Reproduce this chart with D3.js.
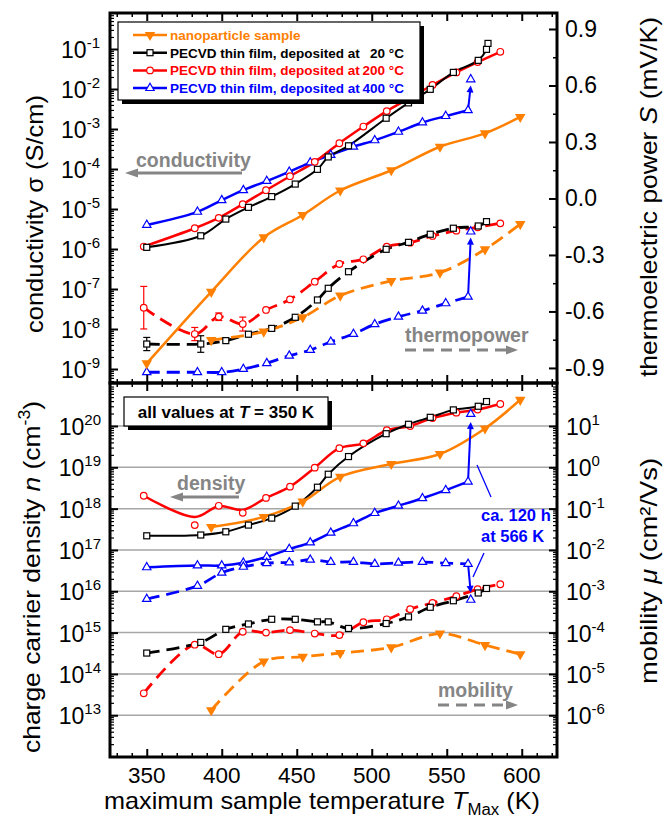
<!DOCTYPE html>
<html>
<head>
<meta charset="utf-8">
<script src="https://cdn.jsdelivr.net/npm/d3@7"></script>
<style>
body { margin: 0; background: #fff; }
svg { display: block; font-family: "Liberation Sans", Arial, sans-serif; }
</style>
</head>
<body>
<svg width="663" height="830"></svg>
<script>
// values
// nanoparticle sample
var tempNano = [350, 393, 428, 454, 479, 513, 545.5, 575.5, 599];
var condNano = [1.38e-9, 8.5e-8, 1.95e-6, 7.1e-6, 2.9e-5, 9.3e-5, 3.6e-4, 7.8e-4, 2.0e-3];
var seebNano = [null, -0.752, -0.707, -0.631, -0.516, -0.438, -0.394, -0.27, -0.136];
var densNano = [null, 3.6e17, 6.3e17, 1.48e18, 5.9e18, 1.2e19, 2.1e19, 8.7e19, 4.3e20];
var mobNano  = [null, 1.32e-6, 2.0e-5, 2.6e-5, 3.2e-5, 4.4e-5, 9.5e-5, 5.0e-5, 3.0e-5];

// PECVD film deposited at 20 C
var temp20 = [350, 386, 402.7, 417.8, 433.3, 449, 463.8, 471, 484.5, 509.6, 524.5, 539, 554.4, 571, 576.5, 577.5];
var cond20 = [1.10e-6, 2.14e-6, 5.6e-6, 1.10e-5, 2.04e-5, 4.2e-5, 9.8e-5, 2.0e-4, 3.8e-4, 1.86e-3, 4.5e-3, 9.8e-3, 2.6e-2, 5.2e-2, 9.8e-2, 0.138];
var seeb20 = [-0.773, -0.773, -0.755, -0.721, -0.69, -0.631, -0.539, -0.477, -0.389, -0.27, -0.233, -0.19, -0.158, -0.146, -0.123, null];
var seebErr20 = [0.035, 0.044];
var dens20 = [2.2e17, 2.3e17, 2.75e17, 4.0e17, 5.9e17, 1.15e18, 3.3e18, 6.8e18, 1.82e19, 6.5e19, 1.1e20, 1.62e20, 2.45e20, 3.0e20, 3.9e20, null];
var mob20  = [3.2e-5, 5.8e-5, 1.2e-4, 1.62e-4, 2.1e-4, 2.1e-4, 1.82e-4, 1.82e-4, 1.26e-4, 1.66e-4, 2.4e-4, 4.1e-4, 5.9e-4, 9.1e-4, 1.17e-3, null];

// PECVD film deposited at 200 C
var temp200 = [348, 382, 398, 414, 429.5, 445.5, 462, 478.4, 494.4, 510, 525.6, 540.5, 556.4, 570.6, 585.7];
var cond200 = [1.15e-6, 3.3e-6, 6.0e-6, 1.32e-5, 2.95e-5, 6.6e-5, 1.51e-4, 4.4e-4, 1.15e-3, 2.8e-3, 6.0e-3, 1.26e-2, 2.6e-2, 4.7e-2, 8.5e-2];
var seeb200 = [-0.58, -0.72, -0.628, -0.667, -0.592, -0.536, -0.442, -0.348, -0.323, -0.256, -0.235, -0.199, -0.171, -0.153, -0.132];
var seebErr200 = [0.113, 0.035, 0.02, 0.037];
var dens200 = [2.05e18, 4.0e17, 1.17e18, 7.9e17, 1.82e18, 3.4e18, 9.8e18, 2.9e19, 3.8e19, 7.9e19, 1.0e20, 1.55e20, 2.1e20, 2.5e20, 3.4e20];
var densFit200 = [2.05e18, 6.3e17, 1.15e18, 9.3e17, 1.82e18, 3.4e18, 9.8e18, 2.9e19, 3.8e19, 7.9e19, 1.0e20, 1.55e20, 2.1e20, 2.5e20, 3.4e20];
var mob200 = [3.4e-6, 5.1e-5, 3.0e-5, 1.05e-4, 1.0e-4, 1.15e-4, 9.5e-5, 8.7e-5, 1.78e-4, 2.1e-4, 3.7e-4, 5.2e-4, 7.6e-4, 1.12e-3, 1.48e-3];

// PECVD film deposited at 400 C
var temp400 = [350, 383.8, 400, 414.4, 430, 445, 459, 472.7, 487.8, 502, 517.8, 533.8, 549.3, 564.2];
var cond400 = [4.0e-6, 8.5e-6, 1.66e-5, 2.95e-5, 5.0e-5, 8.5e-5, 1.45e-4, 2.24e-4, 3.6e-4, 5.2e-4, 8.5e-4, 1.45e-3, 2.1e-3, 2.95e-3];
var seeb400 = [-0.923, -0.923, -0.923, -0.906, -0.875, -0.835, -0.805, -0.761, -0.72, -0.668, -0.628, -0.596, -0.557, -0.522];
var dens400 = [3.8e16, 4.2e16, 4.2e16, 4.9e16, 6.8e16, 1.05e17, 1.51e17, 2.6e17, 4.4e17, 7.8e17, 1.17e18, 1.78e18, 2.8e18, 4.5e18];
var mob400  = [6.5e-4, 1.35e-3, 2.8e-3, 3.9e-3, 4.8e-3, 5.0e-3, 5.8e-3, 5.1e-3, 5.1e-3, 4.6e-3, 4.9e-3, 5.1e-3, 4.8e-3, 4.6e-3];
// same film after ca. 120 h at 566 K
var annealTemp = 566, annealCond = 1.74e-2, annealSeeb = -0.176, annealDens = 1.95e20, annealMob = 6.2e-4;

var xTicks = [350, 400, 450, 500, 550, 600];
var seebTicks = [-0.9, -0.6, -0.3, 0.0, 0.3, 0.6, 0.9];
var condExps = [-1, -2, -3, -4, -5, -6, -7, -8, -9];
var densExps = [20, 19, 18, 17, 16, 15, 14, 13];
var mobExps = [1, 0, -1, -2, -3, -4, -5, -6];

var orange = "#ff8000", red = "#ff0000", blue = "#0000ff", black = "#000", gray = "#858585";

var svg = d3.select("svg");
var left = 110, right = 557, top1 = 13, mid = 383, bottom = 757;

var x = d3.scaleLinear().domain([325.5, 623.5]).range([left, right]);
var yCond = d3.scaleLog().domain([Math.pow(10, -9.35), Math.pow(10, -0.1)]).range([mid, top1]);
var ySeeb = d3.scaleLinear().domain([-0.98, 0.985]).range([mid, top1]);
var yDens = d3.scaleLog().domain([Math.pow(10, 11.99), Math.pow(10, 21.04)]).range([bottom, mid]);
var yMob = d3.scaleLog().domain([Math.pow(10, -7.01), Math.pow(10, 2.04)]).range([bottom, mid]);

svg.append("rect").attr("width", 663).attr("height", 830).attr("fill", "#fff");

// grid lines of the lower panel
svg.selectAll(".grid").data(densExps).enter().append("line")
    .attr("x1", left).attr("x2", right)
    .attr("y1", function(e) { return yDens(Math.pow(10, e)); })
    .attr("y2", function(e) { return yDens(Math.pow(10, e)); })
    .attr("stroke", "#a6a6a6").attr("stroke-width", 1.5);

function pts(T, v) {
  var out = [];
  T.forEach(function(t, i) { if (v[i] != null) out.push({t: t, v: v[i]}); });
  return out;
}

function drawLine(g, y, T, v, color, width, dash) {
  var line = d3.line()
      .x(function(d) { return x(d.t); })
      .y(function(d) { return y(d.v); })
      .curve(d3.curveCatmullRom.alpha(0.5));
  g.append("path").attr("d", line(pts(T, v)))
      .attr("fill", "none").attr("stroke", color)
      .attr("stroke-width", width)
      .attr("stroke-dasharray", dash ? "13,7" : null);
}

function marker(g, type, color, px, py) {
  if (type == "down") {
    g.append("path").attr("d", d3.symbol(d3.symbolTriangle, 48)())
      .attr("transform", "translate(" + px + "," + py + ") rotate(180)")
      .attr("fill", color);
  } else if (type == "sq") {
    g.append("rect").attr("x", px - 3).attr("y", py - 3).attr("width", 6).attr("height", 6)
      .attr("fill", "#fff").attr("stroke", color).attr("stroke-width", 1.2);
  } else if (type == "circ") {
    g.append("circle").attr("cx", px).attr("cy", py).attr("r", 3.3)
      .attr("fill", "#fff").attr("stroke", color).attr("stroke-width", 1.2);
  } else {
    g.append("path").attr("d", d3.symbol(d3.symbolTriangle, 30)())
      .attr("transform", "translate(" + px + "," + py + ")")
      .attr("fill", "#fff").attr("stroke", color).attr("stroke-width", 1.2);
  }
}

function drawMarkers(g, y, T, v, type, color) {
  pts(T, v).forEach(function(d) { marker(g, type, color, x(d.t), y(d.v)); });
}

function errBars(g, T, v, err, color) {
  err.forEach(function(e, i) {
    var px = x(T[i]), y1 = ySeeb(v[i] - e), y2 = ySeeb(v[i] + e);
    g.append("line").attr("x1", px).attr("x2", px).attr("y1", y1).attr("y2", y2).attr("stroke", color).attr("stroke-width", 1.2);
    [y1, y2].forEach(function(yy) {
      g.append("line").attr("x1", px - 3.5).attr("x2", px + 3.5).attr("y1", yy).attr("y2", yy).attr("stroke", color).attr("stroke-width", 1.2);
    });
  });
}

function arrow(g, x1, y1, x2, y2, color, width, dash, hl, hw) {
  var a = Math.atan2(y2 - y1, x2 - x1), c = Math.cos(a), s = Math.sin(a);
  var bx = x2 - hl * c, by = y2 - hl * s;
  g.append("line").attr("x1", x1).attr("y1", y1).attr("x2", bx + c).attr("y2", by + s)
    .attr("stroke", color).attr("stroke-width", width).attr("stroke-dasharray", dash);
  g.append("polygon").attr("fill", color)
    .attr("points", [[x2, y2], [bx - hw * s, by + hw * c], [bx + hw * s, by - hw * c]].join(" "));
}

var samples = [
  {T: temp400, cond: cond400, seeb: seeb400, dens: dens400, densLine: dens400, mob: mob400, color: blue, mark: "tri", w: 2.5},
  {T: temp200, cond: cond200, seeb: seeb200, dens: dens200, densLine: densFit200, mob: mob200, color: red, mark: "circ", w: 2.5},
  {T: temp20, cond: cond20, seeb: seeb20, dens: dens20, densLine: dens20, mob: mob20, color: black, mark: "sq", w: 2},
  {T: tempNano, cond: condNano, seeb: seebNano, dens: densNano, densLine: densNano, mob: mobNano, color: orange, mark: "down", w: 2.5}
];

var data = svg.append("g");
samples.forEach(function(s) {
  drawLine(data, yCond, s.T, s.cond, s.color, s.w, false);
  drawLine(data, ySeeb, s.T, s.seeb, s.color, 2.8, true);
  drawLine(data, yDens, s.T, s.densLine, s.color, s.w, false);
  drawLine(data, yMob, s.T, s.mob, s.color, 2.8, true);
});
errBars(data, temp200, seeb200, seebErr200, red);
errBars(data, temp20, seeb20, seebErr20, black);

// jump of the 400 C film after the long anneal
var lastI = temp400.length - 1;
arrow(data, x(temp400[lastI]), yCond(cond400[lastI]), x(annealTemp), yCond(annealCond) + 6, blue, 2, null, 7, 3.5);
arrow(data, x(temp400[lastI]), ySeeb(seeb400[lastI]), x(annealTemp), ySeeb(annealSeeb) + 6, blue, 2, null, 7, 3.5);
arrow(data, x(temp400[lastI]), yDens(dens400[lastI]), x(annealTemp), yDens(annealDens) + 8, blue, 2, null, 7, 3.5);
arrow(data, x(temp400[lastI]), yMob(mob400[lastI]), x(annealTemp), yMob(annealMob) - 7, blue, 2, null, 7, 3.5);

samples.forEach(function(s) {
  drawMarkers(data, yCond, s.T, s.cond, s.mark, s.color);
  drawMarkers(data, ySeeb, s.T, s.seeb, s.mark, s.color);
  drawMarkers(data, yDens, s.T, s.dens, s.mark, s.color);
  drawMarkers(data, yMob, s.T, s.mob, s.mark, s.color);
});
marker(data, "tri", blue, x(annealTemp), yCond(annealCond));
marker(data, "tri", blue, x(annealTemp), ySeeb(annealSeeb));
marker(data, "tri", blue, x(annealTemp), yDens(annealDens));
marker(data, "tri", blue, x(annealTemp), yMob(annealMob));

// ---- axes: inward ticks, thick frame ----
var xMinor = d3.range(330, 624, 10).filter(function(t) { return t % 50 != 0; });
function logMinor(scale) {
  var d = scale.domain(), lo = Math.floor(Math.log10(d[0])), hi = Math.ceil(Math.log10(d[1])), out = [];
  for (var e = lo; e < hi; e++) for (var k = 2; k < 10; k++) {
    var v = k * Math.pow(10, e);
    if (v > d[0] && v < d[1]) out.push(v);
  }
  return out;
}
function pw(e) { return e.map(function(k) { return Math.pow(10, k); }); }
var seebMinor = d3.range(-0.75, 0.95, 0.3);

var ax = svg.append("g");
function tickAxis(gen, vals, size, tx, ty, w) {
  ax.append("g").attr("transform", "translate(" + tx + "," + ty + ")")
    .call(gen.tickValues(vals).tickSize(size).tickFormat(""))
    .call(function(g) { g.select(".domain").remove(); g.selectAll("line").attr("stroke-width", w); });
}
[[d3.axisBottom, top1], [d3.axisTop, mid], [d3.axisBottom, mid], [d3.axisTop, bottom]].forEach(function(p) {
  tickAxis(p[0](x), xTicks, 8, 0, p[1], 2);
  tickAxis(p[0](x), xMinor, 4, 0, p[1], 1.5);
});
tickAxis(d3.axisRight(yCond), pw(condExps), 8, left, 0, 2);
tickAxis(d3.axisRight(yCond), logMinor(yCond), 4, left, 0, 1.2);
tickAxis(d3.axisLeft(ySeeb), seebTicks, 8, right, 0, 2);
tickAxis(d3.axisLeft(ySeeb), seebMinor, 4, right, 0, 1.5);
tickAxis(d3.axisRight(yDens), pw(densExps), 8, left, 0, 2);
tickAxis(d3.axisRight(yDens), logMinor(yDens), 4, left, 0, 1.2);
tickAxis(d3.axisLeft(yMob), pw(mobExps), 8, right, 0, 2);
tickAxis(d3.axisLeft(yMob), logMinor(yMob), 4, right, 0, 1.2);

ax.append("rect").attr("x", left).attr("y", top1).attr("width", right - left).attr("height", mid - top1)
  .attr("fill", "none").attr("stroke", "#000").attr("stroke-width", 3);
ax.append("rect").attr("x", left).attr("y", mid).attr("width", right - left).attr("height", bottom - mid)
  .attr("fill", "none").attr("stroke", "#000").attr("stroke-width", 3);

// tick labels
var lab = svg.append("g").attr("fill", "#000");
xTicks.forEach(function(t) {
  lab.append("text").attr("x", x(t)).attr("y", 783).attr("text-anchor", "middle")
    .attr("font-size", 22.5).text(t);
});
function powLabel(px, py, exp, anchor) {
  var t = lab.append("text").attr("x", px).attr("y", py).attr("text-anchor", anchor).attr("font-size", 23);
  t.append("tspan").text("10");
  t.append("tspan").attr("dy", -10).attr("font-size", 15).text(exp);
}
condExps.forEach(function(e) { powLabel(100, yCond(Math.pow(10, e)) + 9, e, "end"); });
densExps.forEach(function(e) { powLabel(101, yDens(Math.pow(10, e)) + 9, e, "end"); });
mobExps.forEach(function(e) { powLabel(566, yMob(Math.pow(10, e)) + 9, e, "start"); });
seebTicks.forEach(function(v) {
  lab.append("text").attr("x", 565).attr("y", ySeeb(v) + 8).attr("font-size", 23)
    .text(v.toFixed(1).replace("-0.0", "0.0"));
});

// axis titles (stretched along the baseline like the reference)
function title(px, py, rot, len, parts) {
  var t = lab.append("text").attr("font-size", 24).attr("text-anchor", "middle")
    .attr("transform", "translate(" + px + "," + py + ") rotate(" + rot + ")")
    .attr("textLength", len).attr("lengthAdjust", "spacingAndGlyphs");
  parts.forEach(function(p) {
    var s = t.append("tspan").text(p[0]);
    if (p[1] == "i") s.attr("font-style", "italic");
    if (p[1] == "sup") s.attr("font-size", 16).attr("dy", -10);
    if (p[1] == "sub") s.attr("font-size", 16).attr("dy", 6);
    if (p[2]) s.attr("dy", p[2]);
  });
}
title(43, 214, -90, 238, [["conductivity σ (S/cm)"]]);
title(40, 577, -90, 352, [["charge carrier density "], ["n", "i"], [" (cm"], ["-3", "sup"], [")", null, 10]]);
title(657, 197, -90, 360, [["thermoelectric power "], ["S", "i"], [" (mV/K)"]]);
title(657, 571, -90, 226, [["mobility "], ["μ", "i"], [" (cm²/Vs)"]]);
title(322, 809, 0, 436, [["maximum sample temperature "], ["T", "i"], ["Max", "sub"], [" (K)", null, -6]]);

// ---- annotations ----
var ann = svg.append("g");
ann.append("text").attr("x", 136).attr("y", 167).attr("font-size", 19.5).attr("font-weight", "bold").attr("fill", gray).text("conductivity");
arrow(ann, 242, 173, 125, 173, gray, 3, null, 13, 4.5);
ann.append("text").attr("x", 405).attr("y", 342).attr("font-size", 19.5).attr("font-weight", "bold").attr("fill", gray).text("thermopower");
arrow(ann, 405, 350, 518, 350, gray, 3, "11,7", 12, 4.5);
ann.append("text").attr("x", 177).attr("y", 490).attr("font-size", 19.5).attr("font-weight", "bold").attr("fill", gray).text("density");
arrow(ann, 239, 497, 170, 497, gray, 3, null, 13, 4.5);
ann.append("text").attr("x", 438).attr("y", 697).attr("font-size", 19.5).attr("font-weight", "bold").attr("fill", gray).text("mobility");
arrow(ann, 438, 705, 518, 705, gray, 3, "11,7", 12, 4.5);

ann.append("text").attr("x", 481).attr("y", 521).attr("font-size", 16.5).attr("font-weight", "bold").attr("fill", blue).text("ca. 120 h");
ann.append("text").attr("x", 481).attr("y", 542).attr("font-size", 16.5).attr("font-weight", "bold").attr("fill", blue).text("at 566 K");
ann.append("line").attr("x1", 477).attr("y1", 465).attr("x2", 491).attr("y2", 497).attr("stroke", blue).attr("stroke-width", 1.3);
ann.append("line").attr("x1", 484).attr("y1", 553).attr("x2", 473).attr("y2", 577).attr("stroke", blue).attr("stroke-width", 1.3);

// "all values" box
ann.append("rect").attr("x", 128).attr("y", 401).attr("width", 204).attr("height", 29).attr("fill", "#000");
ann.append("rect").attr("x", 124).attr("y", 397).attr("width", 204).attr("height", 29).attr("fill", "#fff").attr("stroke", "#000").attr("stroke-width", 1.2);
var av = ann.append("text").attr("x", 226).attr("y", 418).attr("text-anchor", "middle").attr("font-size", 17).attr("font-weight", "bold");
av.append("tspan").text("all values at ");
av.append("tspan").attr("font-style", "italic").text("T");
av.append("tspan").text(" = 350 K");

// legend
var legendNames = ["nanoparticle sample", "PECVD thin film, deposited at", "PECVD thin film, deposited at", "PECVD thin film, deposited at"];
var legendTemps = ["", "20 °C", "200 °C", "400 °C"];
var legendColors = [orange, black, red, blue];
var legendMarks = ["down", "sq", "circ", "tri"];
var leg = svg.append("g");
leg.append("rect").attr("x", 122).attr("y", 26).attr("width", 302).attr("height", 78).attr("fill", "#000");
leg.append("rect").attr("x", 118).attr("y", 22).attr("width", 302).attr("height", 78).attr("fill", "#fff").attr("stroke", "#000").attr("stroke-width", 1.2);
legendNames.forEach(function(n, i) {
  var yy = 35 + i * 17.7;
  leg.append("line").attr("x1", 133).attr("x2", 167).attr("y1", yy).attr("y2", yy)
    .attr("stroke", legendColors[i]).attr("stroke-width", 2.5);
  marker(leg, legendMarks[i], legendColors[i], 150, yy);
  leg.append("text").attr("x", 170).attr("y", yy + 5).attr("font-size", 13.5).attr("font-weight", "bold")
    .attr("fill", legendColors[i]).text(n);
  leg.append("text").attr("x", 404).attr("y", yy + 5).attr("text-anchor", "end").attr("font-size", 13.5).attr("font-weight", "bold")
    .attr("fill", legendColors[i]).text(legendTemps[i]);
});
</script>
</body>
</html>
